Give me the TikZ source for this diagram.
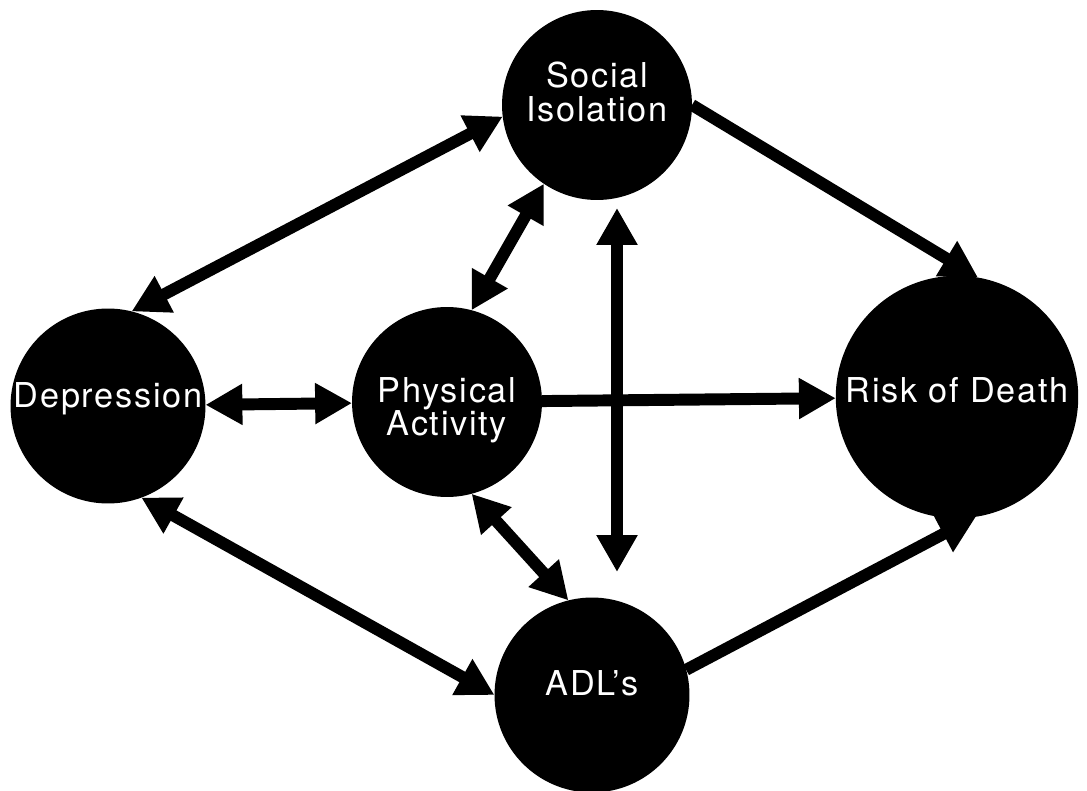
\documentclass[tikz,border=0pt]{standalone}
\usepackage{fontspec}
\setmainfont{TeX Gyre Heros}
\usetikzlibrary{arrows.meta}
\tikzset{
  blob/.style={circle, fill=black, inner sep=0pt, outer sep=0pt},
  txt/.style={text=white, align=center, inner sep=0pt,
    font=\fontsize{19.5}{19}\selectfont\addfontfeatures{LetterSpace=5}},
  link/.style={line width=6.8pt},
  >={Triangle[length=21pt,width=22pt]}
}
\begin{document}
\begin{tikzpicture}[x=0.02cm, y=-0.02cm]
        \useasboundingbox (0,0) rectangle (1087,790);
        % circles
        \node[blob, minimum size=3.8cm] (soc) at (597,105) {};
        \node[blob, minimum size=3.9cm] (dep) at (108,406) {};
        \node[blob, minimum size=3.8cm] (phy) at (447,402) {};
        \node[blob, minimum size=3.9cm] (adl) at (592,695) {};
        \node[blob, minimum size=4.85cm] (rsk) at (957,397) {};
        \node[txt] (soctxt) at (597,92) {Social\\Isolation};
        \node[txt] (deptxt) at (108,399) {Depression};
        \node[txt] (phytxt) at (447,410) {Physical\\Activity};
        \node[txt] (adltxt) at (592,683) {ADL's};
        \node[txt] (rsktxt) at (957,390) {Risk of Death};
        % connectors
        \draw[link, <->] (soc.187) -- (dep.76);
        \draw[link, <->] (soc.236) -- (phy.75);
        \draw[link, <->] (dep) -- (phy);
        \draw[link, <->] (dep.-70) -- (adl.180);
        \draw[link, <->] (phy.-75) -- (adl.104);
        \draw[link, ->] (phy) -- (rsk);
        \draw[link, ->] (soc.0) -- (rsk.80);
        \draw[link, ->] (adl.15) -- (rsk.-81);
        \coordinate (vtop) at (617,208);
        \coordinate (vbot) at (617,572);
        \draw[link, <->] (vtop) -- (vbot);
\end{tikzpicture}
\end{document}
